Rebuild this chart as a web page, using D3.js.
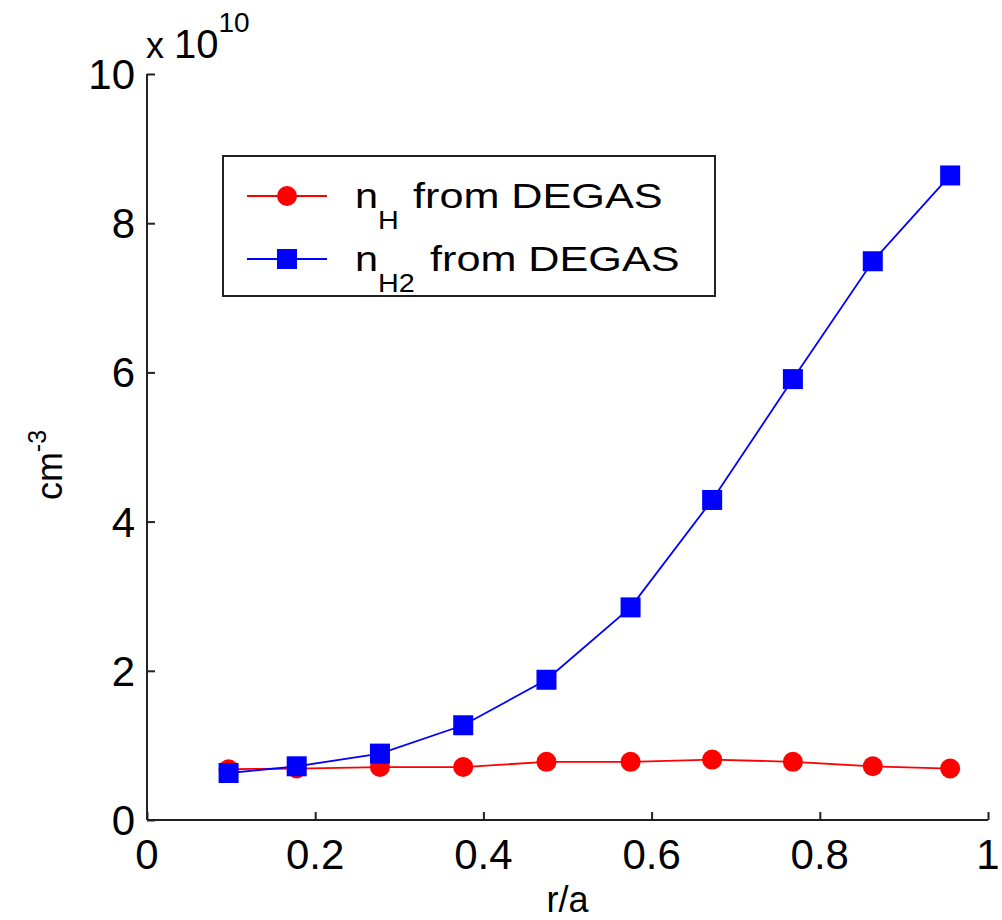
<!DOCTYPE html>
<html>
<head>
<meta charset="utf-8">
<script src="https://cdn.jsdelivr.net/npm/d3@7"></script>
<style>
  body { margin: 0; background: #fff; }
  svg text { font-family: "Liberation Sans", Arial, Helvetica, sans-serif; fill: #000; }
</style>
</head>
<body>
<div id="chart"></div>
<script>
// r/a positions of the DEGAS points
var radius = [0.097, 0.178, 0.277, 0.376, 0.475, 0.575, 0.672, 0.768, 0.863, 0.955];

// densities in units of 1e10 cm^-3
var nH = [0.68, 0.69, 0.71, 0.71, 0.78, 0.78, 0.81, 0.78, 0.72, 0.69];
var nH2 = [0.63, 0.72, 0.89, 1.27, 1.88, 2.85, 4.29, 5.91, 7.49, 8.64];

var xTicks = [0, 0.2, 0.4, 0.6, 0.8, 1];
var yTicks = [0, 2, 4, 6, 8, 10];

var width = 1002, height = 920;
var svg = d3.select("#chart").append("svg")
    .attr("width", width)
    .attr("height", height);

// plot area in pixels
var x = d3.scaleLinear().domain([0, 1]).range([147, 988]);
var y = d3.scaleLinear().domain([0, 10]).range([820, 74]);

// x axis (ticks point inward)
var xAxis = svg.append("g")
    .attr("transform", "translate(0," + y(0) + ")")
    .call(d3.axisTop(x).tickValues(xTicks).tickSize(8).tickFormat(d3.format("")));
xAxis.selectAll("text").remove();
xAxis.selectAll("line, path").attr("stroke", "#222").attr("stroke-width", 2);
xAxis.select(".domain").attr("d", "M" + x(0) + ",0H" + x(1));

svg.append("g").selectAll("text")
    .data(xTicks)
    .enter()
    .append("text")
    .attr("x", function (d) { return x(d); })
    .attr("y", 869)
    .attr("text-anchor", "middle")
    .style("font-size", "42px")
    .text(function (d) { return d3.format("")(d); });

// y axis
var yAxis = svg.append("g")
    .attr("transform", "translate(" + x(0) + ",0)")
    .call(d3.axisRight(y).tickValues(yTicks).tickSize(8));
yAxis.selectAll("text").remove();
yAxis.selectAll("line, path").attr("stroke", "#222").attr("stroke-width", 2);
yAxis.select(".domain").attr("d", "M0," + y(0) + "V" + y(10));

svg.append("g").selectAll("text")
    .data(yTicks)
    .enter()
    .append("text")
    .attr("x", 135)
    .attr("y", function (d) { return y(d) + 15; })
    .attr("text-anchor", "end")
    .style("font-size", "42px")
    .text(function (d) { return d; });

// exponent label
var expo = svg.append("text").attr("x", 146).attr("y", 58).style("font-size", "40px");
expo.append("tspan").style("font-size", "36px").text("x ");
expo.append("tspan").text("10");
expo.append("tspan").attr("dy", -26).style("font-size", "28px").text("10");

// axis titles
svg.append("text")
    .attr("x", x(0.5))
    .attr("y", 912)
    .attr("text-anchor", "middle")
    .style("font-size", "36px")
    .text("r/a");

var ylab = svg.append("text")
    .attr("transform", "translate(62,465) rotate(-90)")
    .attr("text-anchor", "middle")
    .style("font-size", "36px");
ylab.append("tspan").text("cm");
ylab.append("tspan").attr("dy", -16).style("font-size", "25px").text("-3");

// series
var line = d3.line()
    .x(function (d) { return x(d[0]); })
    .y(function (d) { return y(d[1]); });

var redPts = d3.zip(radius, nH);
var bluePts = d3.zip(radius, nH2);

svg.append("path")
    .attr("d", line(redPts))
    .attr("fill", "none")
    .attr("stroke", "#ff0000")
    .attr("stroke-width", 1.8);

svg.append("g").selectAll("circle")
    .data(redPts)
    .enter()
    .append("circle")
    .attr("cx", function (d) { return x(d[0]); })
    .attr("cy", function (d) { return y(d[1]); })
    .attr("r", 10)
    .attr("fill", "#ff0000");

svg.append("path")
    .attr("d", line(bluePts))
    .attr("fill", "none")
    .attr("stroke", "#0000ff")
    .attr("stroke-width", 1.8);

svg.append("g").selectAll("rect")
    .data(bluePts)
    .enter()
    .append("rect")
    .attr("x", function (d) { return x(d[0]) - 10; })
    .attr("y", function (d) { return y(d[1]) - 10; })
    .attr("width", 20)
    .attr("height", 20)
    .attr("fill", "#0000ff");

// legend
var legend = svg.append("g");
legend.append("rect")
    .attr("x", 223).attr("y", 156)
    .attr("width", 492).attr("height", 140)
    .attr("fill", "#fff")
    .attr("stroke", "#222")
    .attr("stroke-width", 2);

var legendItems = [
    { color: "#ff0000", sub: "H", shape: "circle", y: 196, textX: 413 },
    { color: "#0000ff", sub: "H2", shape: "square", y: 259, textX: 430 }
];

// the legend text in the original is drawn a bit wider than normal
function wide(sel, tx, ty, sx) {
    return sel.attr("transform", "translate(" + tx + "," + ty + ") scale(" + sx + ",1)");
}

legendItems.forEach(function (item) {
    legend.append("line")
        .attr("x1", 247).attr("x2", 327)
        .attr("y1", item.y).attr("y2", item.y)
        .attr("stroke", item.color)
        .attr("stroke-width", 1.8);
    if (item.shape === "circle") {
        legend.append("circle").attr("cx", 287).attr("cy", item.y).attr("r", 10).attr("fill", item.color);
    } else {
        legend.append("rect").attr("x", 277).attr("y", item.y - 10).attr("width", 20).attr("height", 20).attr("fill", item.color);
    }
    wide(legend.append("text"), 355, item.y + 12, 1.15).style("font-size", "36px").text("n");
    wide(legend.append("text"), 378, item.y + 33, 1.15).style("font-size", "25px").text(item.sub);
    wide(legend.append("text"), item.textX, item.y + 12, 1.2).style("font-size", "36px").text("from DEGAS");
});
</script>
</body>
</html>
